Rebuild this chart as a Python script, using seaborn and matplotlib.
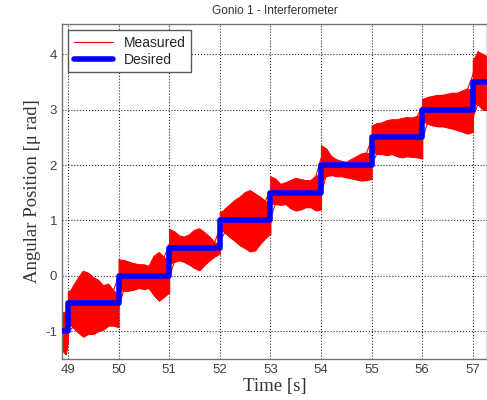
import numpy as np
import pandas as pd
import seaborn as sns
import matplotlib.pyplot as plt
from matplotlib.lines import Line2D

# desired set-point steps (time at which each level starts)
step_times = [48.9, 49.0, 50.0, 51.0, 52.0, 53.0, 54.0, 55.0, 56.0, 57.0, 57.3]
step_levels = [-1.0, -0.5, 0.0, 0.5, 1.0, 1.5, 2.0, 2.5, 3.0, 3.5, 3.5]

# measured signal envelope
# lead-in before the first step
lead_t = [48.88, 48.92, 48.96, 49.0]
lead_hi = [-0.72, -0.66, -0.7, -0.65]
lead_lo = [-1.3, -1.38, -1.42, -1.2]

# one block per second (49..56), samples at k+0.0 ... k+1.0
seg_starts = [49, 50, 51, 52, 53, 54, 55, 56]
seg_hi = [
    [-0.3, -0.2, -0.05, 0.08, 0.05, -0.03, -0.08, -0.18, -0.15, -0.27, -0.32],
    [0.3, 0.28, 0.25, 0.22, 0.2, 0.2, 0.17, 0.35, 0.42, 0.33, 0.28],
    [0.85, 0.8, 0.72, 0.7, 0.74, 0.82, 0.85, 0.78, 0.7, 0.6, 0.58],
    [1.15, 1.2, 1.28, 1.36, 1.42, 1.5, 1.54, 1.48, 1.42, 1.35, 1.3],
    [1.8, 1.75, 1.65, 1.68, 1.72, 1.76, 1.74, 1.72, 1.72, 1.8, 1.88],
    [2.36, 2.3, 2.16, 2.1, 2.07, 2.05, 2.1, 2.15, 2.2, 2.22, 2.2],
    [2.72, 2.75, 2.76, 2.8, 2.82, 2.82, 2.84, 2.86, 2.85, 2.88, 2.92],
    [3.2, 3.22, 3.24, 3.26, 3.26, 3.28, 3.3, 3.3, 3.34, 3.38, 3.36],
]
seg_lo = [
    [-0.85, -0.93, -1.02, -1.1, -1.05, -1.05, -1.0, -0.97, -0.9, -0.9, -0.93],
    [-0.25, -0.27, -0.27, -0.25, -0.22, -0.24, -0.22, -0.35, -0.45, -0.38, -0.3],
    [0.22, 0.25, 0.28, 0.25, 0.2, 0.14, 0.1, 0.2, 0.28, 0.35, 0.4],
    [0.85, 0.78, 0.7, 0.63, 0.55, 0.5, 0.44, 0.46, 0.58, 0.68, 0.76],
    [1.3, 1.3, 1.28, 1.3, 1.22, 1.18, 1.2, 1.24, 1.24, 1.18, 1.2],
    [1.72, 1.8, 1.82, 1.8, 1.8, 1.78, 1.76, 1.74, 1.72, 1.73, 1.75],
    [2.25, 2.2, 2.2, 2.18, 2.2, 2.16, 2.14, 2.16, 2.15, 2.14, 2.12],
    [2.8, 2.75, 2.72, 2.7, 2.7, 2.68, 2.66, 2.63, 2.6, 2.57, 2.6],
]

# tail after the last step
tail_t = [57.0, 57.1, 57.2, 57.3]
tail_hi = [3.9, 4.05, 4.0, 3.95]
tail_lo = [3.1, 3.1, 3.0, 3.0]

x_ticks = [49, 50, 51, 52, 53, 54, 55, 56, 57]
y_ticks = [-1, 0, 1, 2, 3, 4]


def build_envelope():
    t = list(lead_t)
    hi = list(lead_hi)
    lo = list(lead_lo)
    for k, h, l in zip(seg_starts, seg_hi, seg_lo):
        t += list(np.round(k + np.arange(11) * 0.1, 2))
        hi += h
        lo += l
    t += tail_t
    hi += tail_hi
    lo += tail_lo
    return pd.DataFrame({"t": t, "hi": hi, "lo": lo})


def main():
    env = build_envelope()
    desired = pd.DataFrame({"t": step_times, "level": step_levels})

    sns.set_style("white")
    plt.rcParams["font.family"] = ["Liberation Sans", "DejaVu Sans"]
    plt.rcParams["axes.unicode_minus"] = False

    fig = plt.figure(figsize=(4.87, 4.0), dpi=100)
    ax = fig.add_axes([0.127, 0.103, 0.873, 0.837])

    ax.fill_between(env["t"], env["lo"], env["hi"], color="red",
                    linewidth=0.8, edgecolor="red", zorder=2)
    sns.lineplot(data=env, x="t", y="hi", color="red", linewidth=0.8,
                 sort=False, ax=ax, zorder=2)
    sns.lineplot(data=env, x="t", y="lo", color="red", linewidth=0.8,
                 sort=False, ax=ax, zorder=2)
    sns.lineplot(data=desired, x="t", y="level", color="blue",
                 linewidth=4, drawstyle="steps-post", ax=ax, zorder=3)

    ax.set_xlim(48.88, 57.28)
    ax.set_ylim(-1.5, 4.55)
    ax.set_xticks(x_ticks)
    ax.set_yticks(y_ticks)
    ax.grid(True, linestyle=":", color="0.15", linewidth=0.8)
    ax.set_axisbelow(True)
    ax.tick_params(direction="in", length=4, labelsize=9.5,
                   colors="0.25", labelcolor="0.25")
    for s in ax.spines.values():
        s.set_color("0.45")
        s.set_linewidth(1.0)

    ax.set_title("Gonio 1 - Interferometer", fontsize=8.5, color="0.2",
                 pad=7)
    ax.set_xlabel("Time [s]", fontsize=13.5, family="Liberation Serif",
                  color="0.2", labelpad=2)
    ax.set_ylabel("Angular Position [\u03bc rad]", fontsize=13.5,
                  family="Liberation Serif", color="0.2", labelpad=3)

    handles = [Line2D([], [], color="red", linewidth=0.8),
               Line2D([], [], color="blue", linewidth=4)]
    leg = ax.legend(handles, ["Measured", "Desired"], loc="upper left",
                    fontsize=10, fancybox=False, framealpha=1,
                    edgecolor="0.35", handlelength=2.8,
                    borderaxespad=0.45, labelspacing=0.2)
    leg.get_frame().set_linewidth(1.0)

    fig.savefig("out.png", dpi=100)


if __name__ == "__main__":
    main()
